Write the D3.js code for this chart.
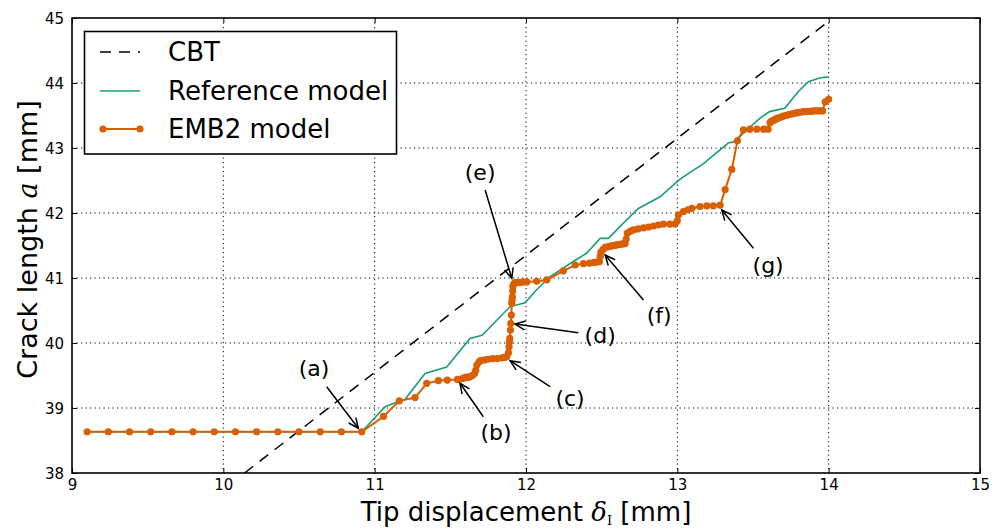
<!DOCTYPE html>
<html>
<head>
<meta charset="utf-8">
<script src="https://cdn.jsdelivr.net/npm/d3@7"></script>
<style>
  html, body { margin: 0; padding: 0; background: #fff; }
  svg { display: block; font-family: "DejaVu Sans", sans-serif; }
</style>
</head>
<body>
<svg id="chart" width="992" height="530"></svg>
<script>
// Axis ticks
const xTicks = [9, 10, 11, 12, 13, 14, 15];
const yTicks = [38, 39, 40, 41, 42, 43, 44, 45];

// CBT analytical line
const cbtX = [10.14, 14.0];
const cbtY = [38.0, 44.95];

// Reference model
const refX = [9.10, 10.915, 11.069, 11.157, 11.20, 11.333, 11.476, 11.63, 11.71, 11.895, 11.994, 12.07, 12.16, 12.31, 12.40, 12.49, 12.545, 12.62, 12.743, 12.886, 13.018, 13.173, 13.338, 13.37, 13.547, 13.61, 13.71, 13.80, 13.866, 13.944, 14.0];
const refY = [38.635, 38.635, 39.02, 39.10, 39.13, 39.53, 39.63, 40.07, 40.12, 40.56, 40.62, 40.82, 41.02, 41.25, 41.38, 41.61, 41.61, 41.79, 42.07, 42.25, 42.52, 42.76, 43.08, 43.09, 43.46, 43.56, 43.61, 43.87, 44.02, 44.08, 44.09];

// EMB2 model
const embX = [9.10, 9.24, 9.38, 9.52, 9.66, 9.80, 9.94, 10.08, 10.22, 10.36, 10.50, 10.64, 10.78, 10.915,
  11.058, 11.163, 11.267, 11.344, 11.421, 11.48, 11.547, 11.575, 11.59, 11.60, 11.61, 11.62, 11.63, 11.645, 11.66,
  11.668, 11.675, 11.69, 11.70, 11.725, 11.75, 11.78, 11.81, 11.84, 11.86, 11.873,
  11.884, 11.888, 11.89, 11.893, 11.897, 11.90, 11.903, 11.906, 11.908, 11.91, 11.912, 11.913, 11.92, 11.928,
  11.945, 11.961, 11.98, 12.005, 12.071, 12.137, 12.247, 12.325, 12.38, 12.42, 12.45, 12.47, 12.485,
  12.49, 12.495, 12.51, 12.523, 12.54, 12.55, 12.56, 12.57, 12.578, 12.59, 12.60, 12.615, 12.63, 12.64, 12.655,
  12.662, 12.67, 12.69, 12.71, 12.74, 12.776, 12.81, 12.842, 12.875, 12.908, 12.95, 12.985,
  13.0, 13.007, 13.04, 13.07, 13.096, 13.15, 13.195, 13.238, 13.283,
  13.316, 13.36, 13.397, 13.437, 13.48, 13.525, 13.57, 13.60,
  13.613, 13.62, 13.63, 13.64, 13.646, 13.66, 13.67, 13.685, 13.70, 13.715, 13.73, 13.75, 13.767, 13.785, 13.80,
  13.815, 13.833, 13.85, 13.87, 13.885, 13.90, 13.915, 13.93, 13.945, 13.96, 13.977, 14.0];
const embY = [38.635, 38.635, 38.635, 38.635, 38.635, 38.635, 38.635, 38.635, 38.635, 38.635, 38.635, 38.635, 38.635, 38.635,
  38.87, 39.11, 39.16, 39.38, 39.42, 39.43, 39.44, 39.45, 39.46, 39.47, 39.47, 39.48, 39.48, 39.50, 39.53,
  39.58, 39.66, 39.71, 39.73, 39.74, 39.75, 39.76, 39.76, 39.77, 39.78, 39.79,
  39.85, 39.94, 40.01, 40.07, 40.20, 40.30, 40.43, 40.61, 40.66, 40.71, 40.80, 40.87, 40.91, 40.93,
  40.93, 40.93, 40.94, 40.94, 40.95, 40.97, 41.11, 41.20, 41.22, 41.23, 41.24, 41.245, 41.25,
  41.33, 41.40, 41.44, 41.47, 41.48, 41.485, 41.49, 41.495, 41.50, 41.505, 41.51, 41.515, 41.52, 41.525, 41.53,
  41.60, 41.69, 41.72, 41.74, 41.755, 41.77, 41.785, 41.80, 41.815, 41.83, 41.83, 41.83,
  41.88, 41.97, 42.02, 42.05, 42.07, 42.10, 42.11, 42.11, 42.12,
  42.36, 42.67, 43.11, 43.28, 43.29, 43.29, 43.29, 43.29,
  43.39, 43.41, 43.42, 43.43, 43.44, 43.455, 43.465, 43.475, 43.49, 43.50, 43.51, 43.52, 43.53, 43.54, 43.545,
  43.55, 43.56, 43.56, 43.565, 43.565, 43.57, 43.57, 43.57, 43.57, 43.57, 43.71, 43.75];

// Annotation labels, text anchor and arrow ends in data units
const annLabels = ["(a)", "(b)", "(c)", "(d)", "(e)", "(f)", "(g)"];
const annText = [[10.599, 39.615], [11.802, 38.631], [12.291, 39.154], [12.49, 40.123], [11.697, 42.631], [12.88, 40.431], [13.60, 41.20]];
const annFrom = [[10.683, 39.328], [11.718, 38.866], [12.159, 39.328], [12.346, 40.158], [11.73, 42.354], [12.776, 40.662], [13.503, 41.457]];
const annTo = [[10.892, 38.688], [11.564, 39.38], [11.895, 39.728], [11.928, 40.292], [11.906, 40.995], [12.523, 41.354], [13.294, 42.046]];

const seriesNames = ["CBT", "Reference model", "EMB2 model"];
const green = "#1b9e77", orange = "#d95f02";

const svg = d3.select("#chart");
const L = 72, R = 980, T = 18, B = 473;
const x = d3.scaleLinear().domain([9, 15]).range([L, R]);
const y = d3.scaleLinear().domain([38, 45]).range([B, T]);

svg.append("defs").append("clipPath").attr("id", "plotclip")
  .append("rect").attr("x", L).attr("y", T).attr("width", R - L).attr("height", B - T);

// dotted grid
const grid = svg.append("g").attr("stroke", "#000").attr("stroke-width", 1).attr("stroke-dasharray", "1.2,3.3");
grid.selectAll("line.gx").data(xTicks.slice(1, -1)).join("line")
  .attr("x1", d => x(d)).attr("x2", d => x(d)).attr("y1", T).attr("y2", B);
grid.selectAll("line.gy").data(yTicks.slice(1, -1)).join("line")
  .attr("y1", d => y(d)).attr("y2", d => y(d)).attr("x1", L).attr("x2", R);

const plot = svg.append("g").attr("clip-path", "url(#plotclip)");
const line = d3.line().x(d => x(d[0])).y(d => y(d[1]));

const cbt = cbtX.map((v, i) => [v, cbtY[i]]);
const ref = refX.map((v, i) => [v, refY[i]]);
const emb = embX.map((v, i) => [v, embY[i]]);

plot.append("path").datum(cbt).attr("d", line).attr("fill", "none")
  .attr("stroke", "#000").attr("stroke-width", 1.5).attr("stroke-dasharray", "11,8");
plot.append("path").datum(ref).attr("d", line).attr("fill", "none")
  .attr("stroke", green).attr("stroke-width", 1.6);
plot.append("path").datum(emb).attr("d", line).attr("fill", "none")
  .attr("stroke", orange).attr("stroke-width", 2);
plot.selectAll("circle.emb").data(emb).join("circle")
  .attr("cx", d => x(d[0])).attr("cy", d => y(d[1])).attr("r", 3.6).attr("fill", orange);

// axes with inward ticks on all four sides
const tickLen = 5;
const axB = svg.append("g").attr("transform", `translate(0,${B})`)
  .call(d3.axisBottom(x).tickValues(xTicks).tickFormat(d3.format("d")).tickSize(-tickLen).tickPadding(6));
const axT = svg.append("g").attr("transform", `translate(0,${T})`)
  .call(d3.axisTop(x).tickValues(xTicks).tickFormat("").tickSize(-tickLen));
const axL = svg.append("g").attr("transform", `translate(${L},0)`)
  .call(d3.axisLeft(y).tickValues(yTicks).tickFormat(d3.format("d")).tickSize(-tickLen).tickPadding(8));
const axR = svg.append("g").attr("transform", `translate(${R},0)`)
  .call(d3.axisRight(y).tickValues(yTicks).tickFormat("").tickSize(-tickLen));
[axB, axT, axL, axR].forEach(a => {
  a.select(".domain").remove();
  a.selectAll(".tick line").attr("stroke", "#000").attr("stroke-width", 1);
  a.selectAll("text").attr("font-family", "DejaVu Sans").attr("font-size", 15).attr("fill", "#000");
});
axL.selectAll("text").attr("dy", "0.36em");

svg.append("rect").attr("x", L).attr("y", T).attr("width", R - L).attr("height", B - T)
  .attr("fill", "none").attr("stroke", "#000").attr("stroke-width", 1.6);

// axis titles
svg.append("text").attr("x", (L + R) / 2).attr("y", 521).attr("text-anchor", "middle")
  .attr("font-size", 26).attr("fill", "#000")
  .html('Tip displacement <tspan font-style="italic" font-family="DejaVu Serif">δ</tspan><tspan font-size="13" dy="4" font-family="DejaVu Serif">I</tspan><tspan dy="-4"> [mm]</tspan>');
svg.append("text").attr("transform", `translate(37,${(T + B) / 2 - 6}) rotate(-90)`).attr("text-anchor", "middle")
  .attr("font-size", 27).attr("fill", "#000")
  .html('Crack length <tspan font-style="italic" font-family="DejaVu Serif">a</tspan> [mm]');

// annotations
const ann = svg.append("g");
annLabels.forEach((lab, i) => {
  const x0 = x(annFrom[i][0]), y0 = y(annFrom[i][1]);
  const x1 = x(annTo[i][0]), y1 = y(annTo[i][1]);
  const ang = Math.atan2(y1 - y0, x1 - x0);
  const hl = 11, ha = 0.42;
  ann.append("line").attr("x1", x0).attr("y1", y0).attr("x2", x1).attr("y2", y1)
    .attr("stroke", "#000").attr("stroke-width", 1.5);
  ann.append("path")
    .attr("d", `M${x1 - hl * Math.cos(ang - ha)},${y1 - hl * Math.sin(ang - ha)}L${x1},${y1}L${x1 - hl * Math.cos(ang + ha)},${y1 - hl * Math.sin(ang + ha)}`)
    .attr("fill", "none").attr("stroke", "#000").attr("stroke-width", 1.5);
  ann.append("text").attr("x", x(annText[i][0])).attr("y", y(annText[i][1])).attr("dy", "0.35em")
    .attr("text-anchor", "middle").attr("font-size", 22).attr("fill", "#000").text(lab);
});

// legend
const lg = svg.append("g");
lg.append("rect").attr("x", 84.5).attr("y", 31.5).attr("width", 312).attr("height", 122.5)
  .attr("fill", "#fff").attr("stroke", "#000").attr("stroke-width", 1.6);
const ly = [52, 91, 129];
lg.append("line").attr("x1", 100).attr("x2", 140).attr("y1", ly[0]).attr("y2", ly[0])
  .attr("stroke", "#000").attr("stroke-width", 1.5).attr("stroke-dasharray", "11,8");
lg.append("line").attr("x1", 100).attr("x2", 140).attr("y1", ly[1]).attr("y2", ly[1])
  .attr("stroke", green).attr("stroke-width", 1.6);
lg.append("line").attr("x1", 103).attr("x2", 140).attr("y1", ly[2]).attr("y2", ly[2])
  .attr("stroke", orange).attr("stroke-width", 2);
[103, 140].forEach(cx => lg.append("circle").attr("cx", cx).attr("cy", ly[2]).attr("r", 3.6).attr("fill", orange));
seriesNames.forEach((n, i) => lg.append("text").attr("x", 168).attr("y", ly[i]).attr("dy", "0.36em")
  .attr("font-size", 26).attr("fill", "#000").text(n));
</script>
</body>
</html>
